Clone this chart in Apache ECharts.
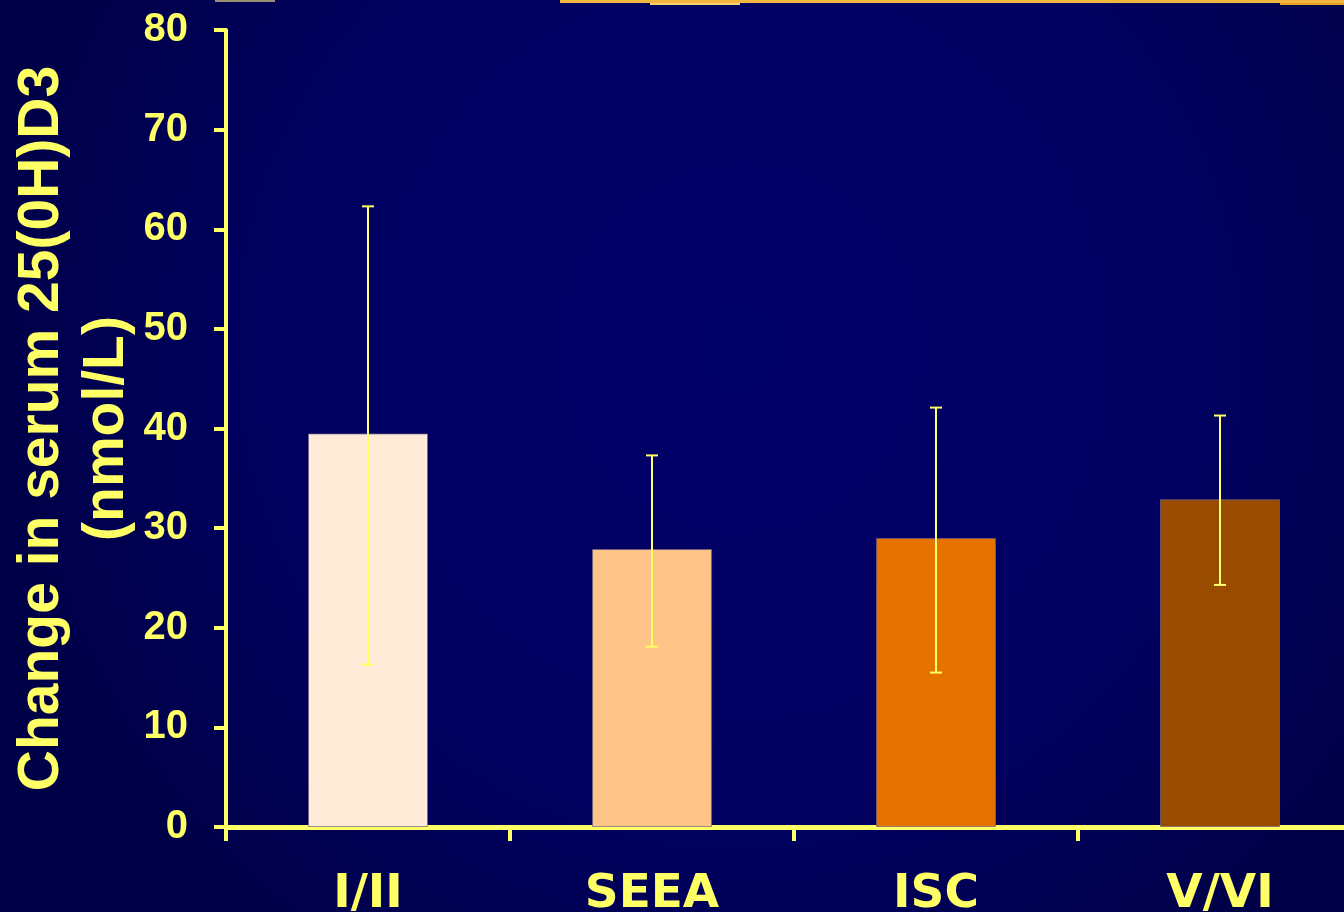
<!DOCTYPE html>
<html>
<head>
<meta charset="utf-8">
<script src="https://cdn.jsdelivr.net/npm/echarts@6/dist/echarts.min.js"></script>
<style>
html,body{margin:0;padding:0;background:#000058;}
#chart{width:1344px;height:912px;}
</style>
</head>
<body>
<div id="chart"></div>
<script>
// ---- data ----
var categories = ['I/II', 'SEEA', 'ISC', 'V/VI'];
var meanValues = [39.5, 27.9, 29.0, 32.9];
var errLow = [16.3, 18.1, 15.5, 24.3];
var errHigh = [62.3, 37.3, 42.1, 41.3];
var barColors = ['#FFEBD7', '#FFC488', '#E67300', '#994C00'];
var yTicks = {min: 0, max: 80, interval: 10};
var yTitle = 'Change in serum 25(0H)D3\n(nmol/L)';

var YEL = '#FFFF66';
var chart = echarts.init(document.getElementById('chart'), null, {renderer: 'canvas'});

var barData = meanValues.map(function (v, i) {
  return {value: v, itemStyle: {color: barColors[i]}};
});
var errData = categories.map(function (c, i) { return [i, errLow[i], errHigh[i]]; });

var option = {
  backgroundColor: {
    type: 'radial', x: 0.55, y: 0.38, r: 0.85,
    colorStops: [
      {offset: 0, color: '#00006A'},
      {offset: 0.6, color: '#000060'},
      {offset: 1, color: '#000046'}
    ]
  },
  animation: false,
  graphic: [
    {type: 'rect', shape: {x: 560, y: 0, width: 784, height: 3}, style: {fill: '#F2B540'}, silent: true},
    {type: 'rect', shape: {x: 650, y: 3, width: 90, height: 2}, style: {fill: '#F8D070'}, silent: true},
    {type: 'rect', shape: {x: 1280, y: 3, width: 64, height: 2}, style: {fill: '#E8A020'}, silent: true},
    {type: 'rect', shape: {x: 215, y: 0, width: 60, height: 2}, style: {fill: '#9A8F70'}, silent: true}
  ],
  grid: {left: 226, right: -18, top: 30, bottom: 85, containLabel: false, outerBoundsMode: 'none'},
  xAxis: {
    type: 'category',
    data: categories,
    boundaryGap: true,
    axisLine: {show: true, lineStyle: {color: YEL, width: 5}},
    axisTick: {show: true, length: 14, lineStyle: {color: YEL, width: 4}},
    axisLabel: {
      color: YEL, fontSize: 47, fontWeight: 'bold',
      fontFamily: 'DejaVu Sans', margin: 44
    },
    splitLine: {show: false}
  },
  yAxis: {
    type: 'value',
    min: yTicks.min, max: yTicks.max, interval: yTicks.interval,
    name: yTitle,
    nameLocation: 'middle',
    nameGap: 86,
    nameMoveOverlap: false,
    nameTextStyle: {
      color: YEL, fontSize: 57, fontWeight: 'bold',
      fontFamily: 'Liberation Sans, Arial', lineHeight: 65
    },
    axisLine: {show: true, lineStyle: {color: YEL, width: 4}},
    axisTick: {show: true, length: 12, lineStyle: {color: YEL, width: 4}},
    axisLabel: {
      color: YEL, fontSize: 40, fontWeight: 'bold',
      fontFamily: 'Liberation Sans, Arial', margin: 38
    },
    splitLine: {show: false}
  },
  series: [
    {
      type: 'bar',
      data: barData,
      barWidth: 120,
      itemStyle: {borderColor: 'rgba(110,100,130,0.7)', borderWidth: 1},
      z: 2
    },
    {
      type: 'custom',
      data: errData,
      encode: {x: 0, y: [1, 2]},
      z: 5,
      renderItem: function (params, api) {
        var idx = api.value(0);
        var lo = api.coord([idx, api.value(1)]);
        var hi = api.coord([idx, api.value(2)]);
        var hw = 6;
        var st = {stroke: YEL, lineWidth: 2};
        return {
          type: 'group',
          children: [
            {type: 'line', shape: {x1: lo[0], y1: lo[1], x2: hi[0], y2: hi[1]}, style: st},
            {type: 'line', shape: {x1: hi[0] - hw, y1: hi[1], x2: hi[0] + hw, y2: hi[1]}, style: st},
            {type: 'line', shape: {x1: lo[0] - hw, y1: lo[1], x2: lo[0] + hw, y2: lo[1]}, style: st}
          ]
        };
      }
    }
  ]
};
chart.setOption(option);
</script>
</body>
</html>
